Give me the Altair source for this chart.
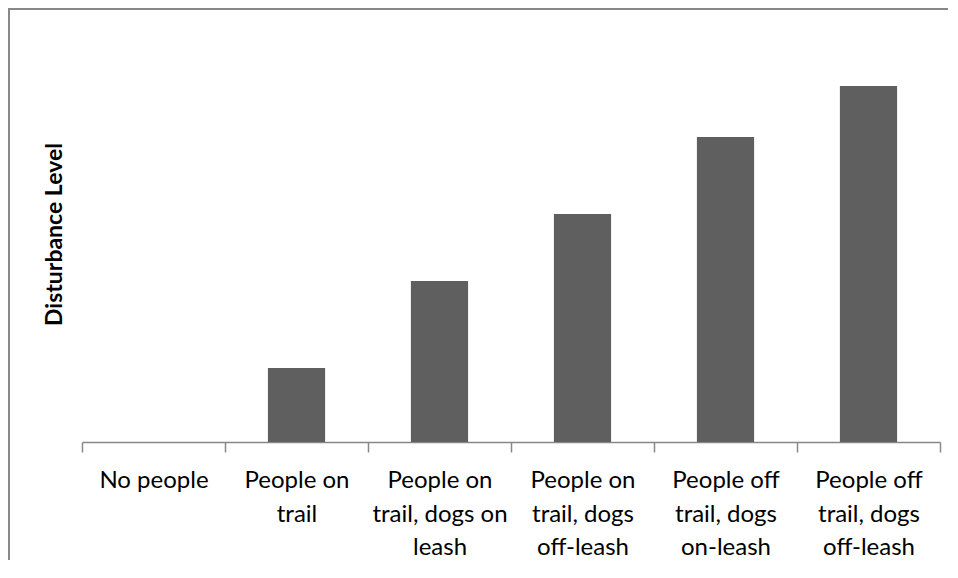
import altair as alt
import pandas as pd

categories = [
    "No people|",
    "People on|trail",
    "People on|trail, dogs on|leash",
    "People on|trail, dogs|off-leash",
    "People off|trail, dogs|on-leash",
    "People off|trail, dogs|off-leash",
]
disturbance = [0, 74, 161, 228, 305, 356]

df = pd.DataFrame({"category": categories, "level": disturbance})

TOTAL_W, TOTAL_H = 940, 552
X_RANGE = [74, 932]
Y_RANGE = [434, 34]

bars = alt.Chart(df).mark_bar(color="#5f5f5f", width=alt.RelativeBandSize(0.4)).encode(
    x=alt.X(
        "category:N",
        sort=categories,
        scale=alt.Scale(paddingInner=0, paddingOuter=0, range=X_RANGE),
        axis=alt.Axis(
            title=None,
            offset=Y_RANGE[0] - TOTAL_H,
            labelAngle=0,
            labelExpr="split(datum.label, '|')",
            labelFont="Lato",
            labelFontSize=24,
            labelColor="#000000",
            labelLineHeight=33.5,
            labelBaseline="alphabetic",
            labelPadding=35.5,
            tickBand="extent",
            tickSize=10,
            tickColor="#888888",
            tickWidth=1.5,
            domainColor="#888888",
            domainWidth=1.5,
            grid=False,
        ),
    ),
    y=alt.Y(
        "level:Q",
        scale=alt.Scale(domain=[0, 400], nice=False, range=Y_RANGE),
        axis=alt.Axis(
            title="Disturbance Level",
            labels=False,
            ticks=False,
            domain=False,
            grid=False,
            titleFont="Lato",
            titleFontSize=23,
            titleFontWeight="bold",
            titleColor="#000000",
            titleAngle=270,
            titleAlign="center",
            titleBaseline="alphabetic",
            titleX=53,
            titleY=226,
        ),
    ),
)

# chart-area frame (left and top edges; right and bottom lie outside the picture)
frame_base = alt.Chart(pd.DataFrame({"f": [0]}))
frame_left = frame_base.mark_rect(color="#888888").encode(
    x=alt.value(0),
    x2=alt.value(2),
    y=alt.value(0),
    y2=alt.value(TOTAL_H),
)
frame_top = frame_base.mark_rect(color="#888888").encode(
    x=alt.value(0),
    x2=alt.value(TOTAL_W),
    y=alt.value(0),
    y2=alt.value(2),
)

chart = alt.layer(frame_left, frame_top, bars).properties(
    width=TOTAL_W,
    height=TOTAL_H,
    autosize=alt.AutoSizeParams(type="none"),
    padding=0,
).configure_view(strokeWidth=0, stroke="transparent")

chart.save("out.html", embed_options={"renderer": "svg", "actions": False})
